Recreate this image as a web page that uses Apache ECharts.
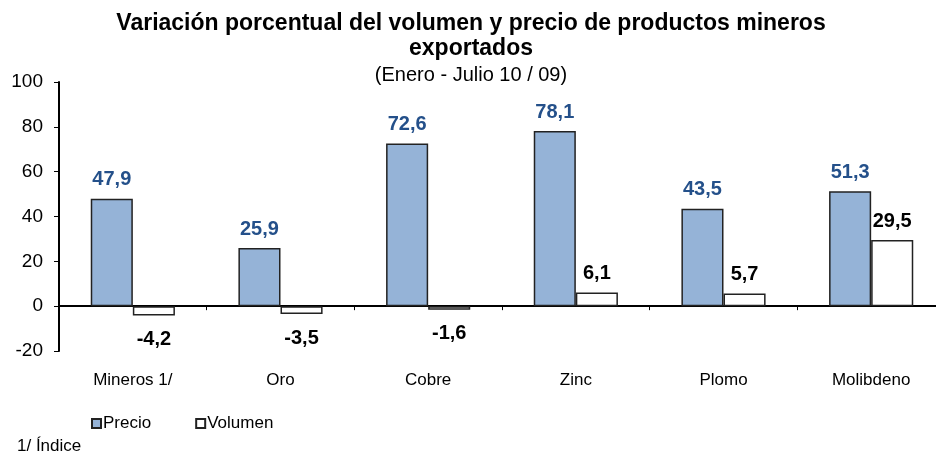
<!DOCTYPE html>
<html>
<head>
<meta charset="utf-8">
<script src="https://cdn.jsdelivr.net/npm/echarts@6/dist/echarts.min.js"></script>
<style>
  html, body { margin: 0; padding: 0; background: #fff; overflow: hidden; }
  /* el área de trazado continúa un poco más allá del borde derecho */
  #chart { width: 945px; height: 452px; }
</style>
</head>
<body>
<div id="chart"></div>
<script>
const categories = ['Mineros 1/', 'Oro', 'Cobre', 'Zinc', 'Plomo', 'Molibdeno']
const precio = [47.9, 25.9, 72.6, 78.1, 43.5, 51.3]
const volumen = [-4.2, -3.5, -1.6, 6.1, 5.7, 29.5]
const yTicks = { min: -20, max: 100, interval: 20 }

const fontFamily = 'Liberation Sans, Arial, sans-serif'
const fmt = (v) => v.toFixed(1).replace('.', ',')

const chart = echarts.init(document.getElementById('chart'))

const barLabel = (color) => ({
  show: true,
  fontFamily,
  fontSize: 20,
  fontWeight: 'bold',
  color,
  formatter: (p) => fmt(p.value),
  position: 'top',
  distance: 9
})

// etiquetas de barras negativas van debajo
const volumenData = volumen.map((v) => ({
  value: v,
  label: v < 0 ? { position: 'bottom', distance: 14 } : {}
}))

chart.setOption({
  animation: false,
  title: [
    {
      text: 'Variación porcentual del volumen y precio de productos mineros\nexportados',
      subtext: '(Enero - Julio 10 / 09)',
      left: 466,
      textAlign: 'center',
      top: 6,
      itemGap: 4,
      textStyle: { fontFamily, fontSize: 23, fontWeight: 'bold', color: '#000', lineHeight: 25 },
      subtextStyle: { fontFamily, fontSize: 20, color: '#000' }
    },
    {
      text: '1/ Índice',
      left: 12,
      top: 433,
      textStyle: { fontFamily, fontSize: 17, fontWeight: 'normal', color: '#000' }
    }
  ],
  legend: {
    left: 86,
    top: 410,
    itemWidth: 9,
    itemHeight: 9,
    itemGap: 44,
    icon: 'rect',
    textStyle: { fontFamily, fontSize: 17, color: '#000', padding: [0, 0, 0, -3] },
    data: ['Precio', 'Volumen']
  },
  grid: { left: 59, right: 0, top: 82, bottom: 101 },
  xAxis: {
    type: 'category',
    data: categories,
    axisLine: { onZero: true, lineStyle: { color: '#000', width: 2 } },
    axisTick: { show: true, length: 4, lineStyle: { color: '#000' } },
    axisLabel: { fontFamily, fontSize: 17, color: '#000', margin: 21 }
  },
  yAxis: {
    type: 'value',
    min: yTicks.min,
    max: yTicks.max,
    interval: yTicks.interval,
    splitLine: { show: false },
    axisLine: { show: true, lineStyle: { color: '#000', width: 2 } },
    axisTick: { show: true, length: 5, lineStyle: { color: '#000' } },
    axisLabel: { fontFamily, fontSize: 19, color: '#000', margin: 16 }
  },
  series: [
    {
      name: 'Precio',
      type: 'bar',
      data: precio,
      barGap: '0%',
      barCategoryGap: '43%',
      itemStyle: { color: '#95B3D7', borderColor: '#222', borderWidth: 1.5 },
      label: barLabel('#24508A')
    },
    {
      name: 'Volumen',
      type: 'bar',
      data: volumenData,
      barGap: '0%',
      barCategoryGap: '43%',
      itemStyle: { color: '#fff', borderColor: '#222', borderWidth: 1.5 },
      label: barLabel('#000')
    }
  ]
})
</script>
</body>
</html>
